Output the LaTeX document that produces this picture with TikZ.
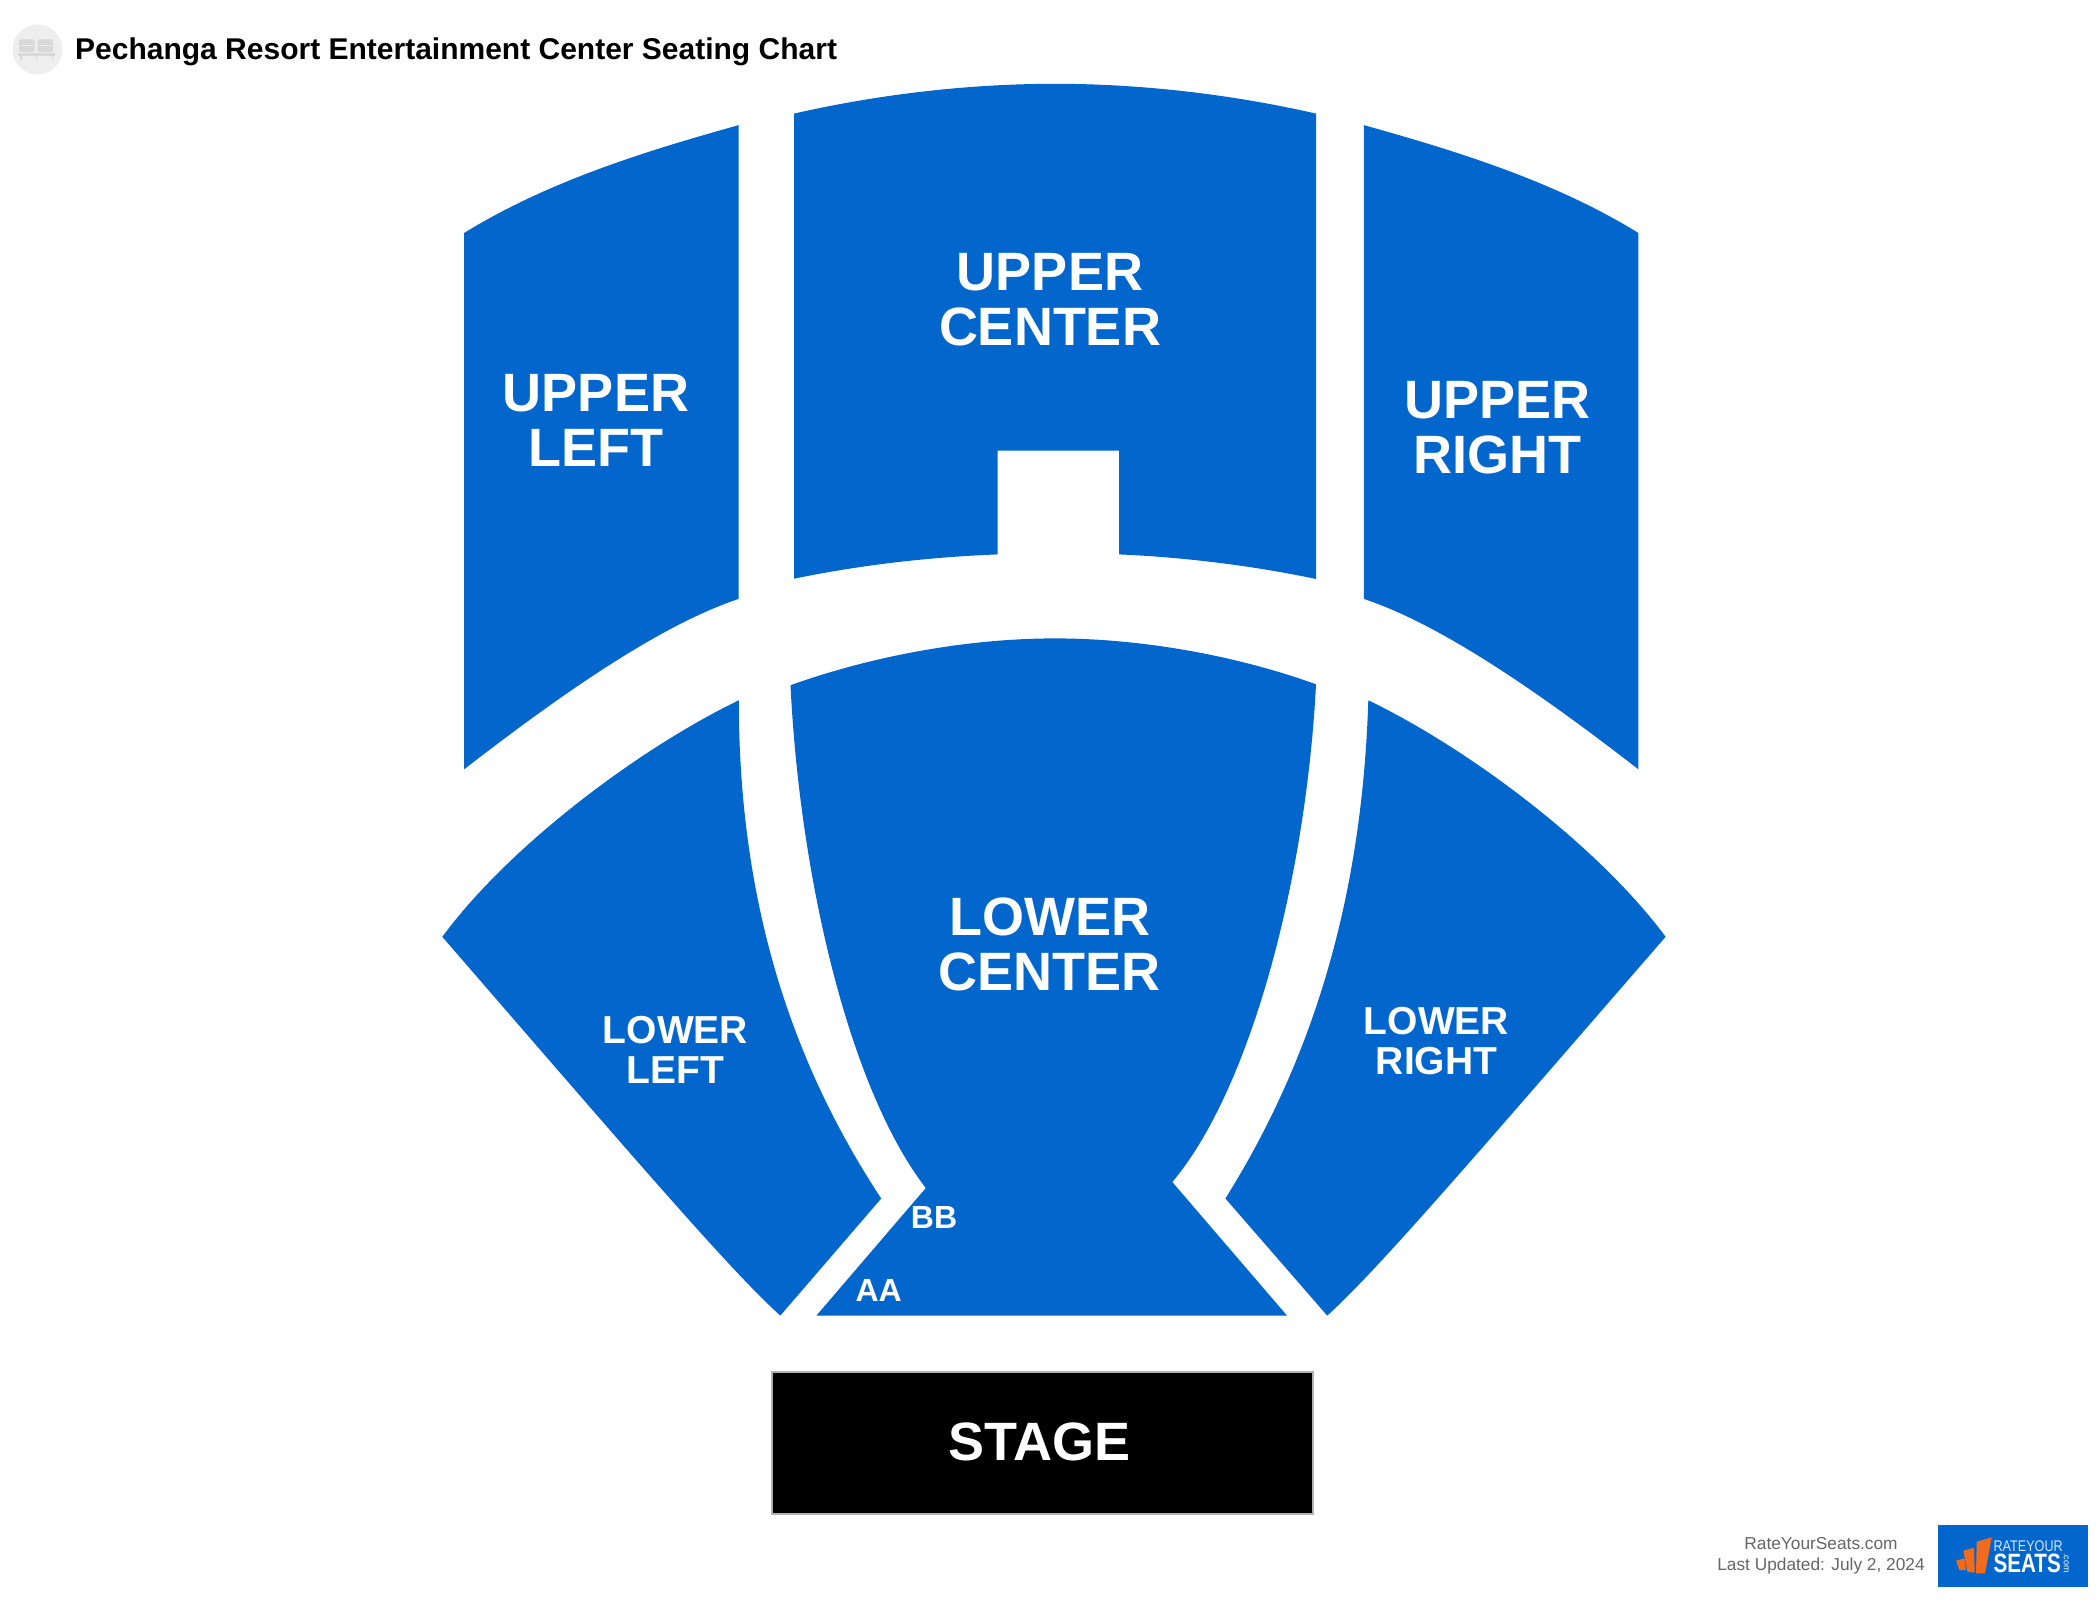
\documentclass[tikz,border=0pt]{standalone}
\usepackage{fontspec}
\setmainfont{Liberation Sans}
\definecolor{seatblue}{HTML}{0366CC}
\definecolor{iconbg}{HTML}{EEEEEE}
\definecolor{iconfg}{HTML}{D9D9D9}
\definecolor{footgray}{HTML}{666666}
\definecolor{logoorange}{HTML}{F26B1D}
\definecolor{logopale}{HTML}{D5E6F7}
\tikzset{
  section/.style={fill=seatblue},
  biglabel/.style={text=white,font=\bfseries\fontsize{54}{55}\selectfont,align=center,inner sep=0pt},
  smalllabel/.style={text=white,font=\bfseries\fontsize{39}{40}\selectfont,align=center,inner sep=0pt},
  rowlabel/.style={text=white,font=\bfseries\fontsize{32}{32}\selectfont,inner sep=0pt},
  footlabel/.style={text=footgray,font=\fontsize{17.3}{21}\selectfont,align=center,inner sep=0pt},
}
\begin{document}
\begin{tikzpicture}[x=1pt,y=-1pt]
\useasboundingbox (0,0) rectangle (2100,1600);
\fill[white] (0,0) rectangle (2100,1600);
% icon
\fill[iconbg] (37.5,49.5) circle (25);
\fill[iconfg,rounded corners=2pt] (19,39.5) rectangle (34.5,52);
\fill[iconfg,rounded corners=2pt] (37.5,39.5) rectangle (53,52);
\fill[iconbg] (20.5,45.5) rectangle (33,46.5);
\fill[iconbg] (39,45.5) rectangle (51.5,46.5);
\fill[iconfg] (17.5,52.8) rectangle (55,55.8);
\fill[iconfg] (20,55) rectangle (21.5,60);
\fill[iconfg] (35.5,55) rectangle (37,60);
\fill[iconfg] (51.5,55) rectangle (53,60);
\node[anchor=base west,inner sep=0pt,font=\bfseries\fontsize{30}{32}\selectfont] (title) at (75,59.5) {Pechanga Resort Entertainment Center Seating Chart};
% upper sections
\fill[section] (464.1,233) .. controls (550,180) and (650,150) .. (738.7,125.1) -- (738.7,598.9) .. controls (660,625) and (560,695) .. (464.1,769.3) -- cycle;
\fill[section] (794,113.6) .. controls (880,94) and (970,83.8) .. (1055,83.8) .. controls (1140,83.8) and (1230,94) .. (1316,113.6) -- (1316,579) .. controls (1250,565) and (1180,557) .. (1119.2,554.4) -- (1119.2,450.6) -- (997.6,450.6) -- (997.6,554.4) .. controls (930,557) and (860,565) .. (794,578.7) -- cycle;
\fill[section] (1638.4,233) .. controls (1552.5,180) and (1452.5,150) .. (1363.8,125.1) -- (1363.8,598.9) .. controls (1442.5,625) and (1542.5,695) .. (1638.4,769.3) -- cycle;
% lower sections
\fill[section] (738.8,700.3) .. controls (640,748) and (510,845) .. (442.3,936.8) .. controls (640,1165) and (730,1270) .. (780.3,1315.6) -- (881.2,1198.5) .. controls (790,1060) and (738.8,900) .. cycle;
\fill[section] (790.5,685.2) .. controls (875,655) and (970,638.4) .. (1055,638.4) .. controls (1140,638.4) and (1235,655) .. (1316,684.3) .. controls (1306,880) and (1250,1090) .. (1172.3,1182) -- (1287,1315.6) -- (816.4,1315.6) -- (925.8,1188) .. controls (850,1090) and (800,880) .. cycle;
\fill[section] (1368.3,700.3) .. controls (1467.5,748) and (1597.5,845) .. (1665.6,936.8) .. controls (1467.5,1165) and (1377.5,1270) .. (1327.2,1315.6) -- (1225.4,1198.5) .. controls (1312,1060) and (1362,900) .. cycle;
% stage
\node[draw=black!30,fill=black,line width=1.5pt,minimum width=541pt,minimum height=142pt,inner sep=0pt] (stagebox) at (1042.3,1443) {};
\node[biglabel] (stage) at (1039.5,1442) {STAGE};
% labels
\node[biglabel] (uc) at (1050,299.5) {UPPER\\CENTER};
\node[biglabel] (ul) at (596,420) {UPPER\\LEFT};
\node[biglabel] (ur) at (1497.5,427.5) {UPPER\\RIGHT};
\node[biglabel] (lc) at (1049.5,944) {LOWER\\CENTER};
\node[smalllabel] (ll) at (675.5,1049.5) {LOWER\\LEFT};
\node[smalllabel] (lr) at (1436.5,1041.5) {LOWER\\RIGHT};
\node[rowlabel] (aa) at (878.6,1290.5) {AA};
\node[rowlabel] (bb) at (934,1217) {BB};
% footer
\node[footlabel] (foot) at (1821,1555.5) {RateYourSeats.com\\Last Updated: July 2, 2024};
% logo
\node[fill=seatblue,minimum width=150pt,minimum height=62.3pt,inner sep=0pt] (logo) at (2012.5,1556.2) {};
\begin{scope}[shift={(1930,1520)},x=0.3333pt,y=-0.3333pt]
\fill[logoorange] (78,122) -- (103,115) -- (108,150) -- (88,150) -- cycle;
\fill[logoorange] (100,92) -- (132,83) -- (134,158) -- (112,155) -- cycle;
\fill[logoorange] (140,65) -- (185,52) -- (165,160) -- (138,160) -- cycle;
\node[anchor=west,inner sep=0pt,text=logopale,font=\fontsize{15.4}{15}\selectfont,xscale=0.82] (rate) at (190,79) {RATEYOUR};
\node[anchor=west,inner sep=0pt,text=white,font=\bfseries\fontsize{26.5}{26}\selectfont,xscale=0.78] (seats) at (190,129) {SEATS};
\node[inner sep=0pt,text=white,font=\fontsize{9}{9}\selectfont,rotate=-90] (com) at (409,129) {.com};
\end{scope}
\end{tikzpicture}
\end{document}
